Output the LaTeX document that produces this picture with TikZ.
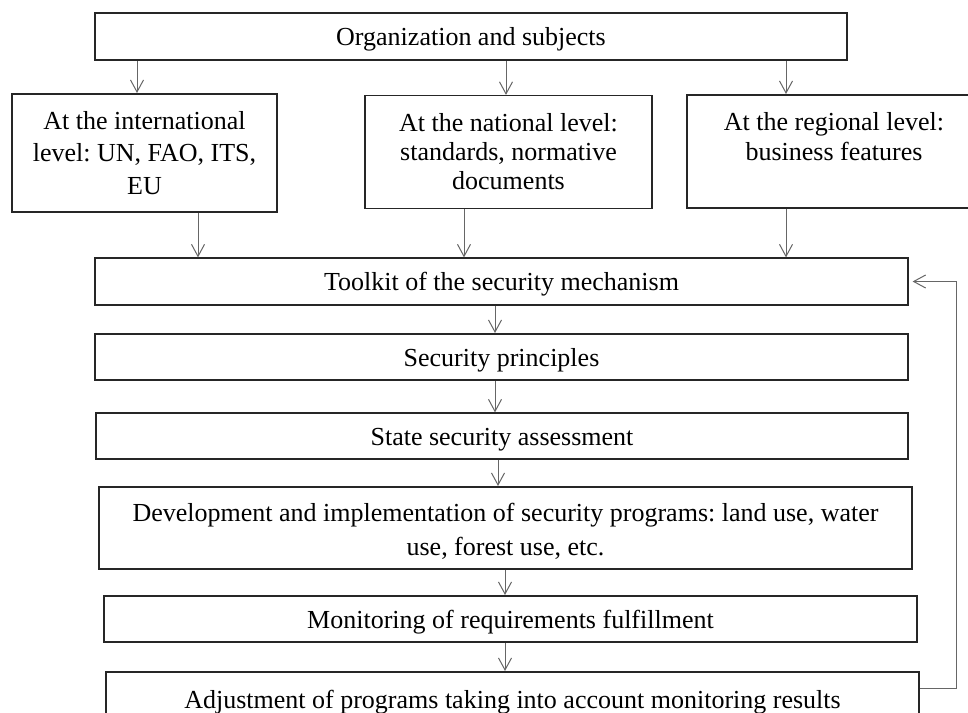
\documentclass[tikz,border=0pt]{standalone}
\usepackage{fontspec}
\setmainfont{Liberation Serif}
\usetikzlibrary{arrows.meta}
\frenchspacing
\begin{document}
\begin{tikzpicture}[x=1pt,y=-1pt,
  boxbase/.style={rectangle,draw=black!85,inner sep=0pt,align=center,
     font=\fontsize{26}{31}\selectfont,text=black},
  thinbox/.style={boxbase,line width=1.2pt},
  thickbox/.style={boxbase,line width=2pt},
  oneline/.style={text height=18pt,text depth=0pt},
  arr/.style={draw=black!60,line width=1pt,-{Straight Barb[length=12pt,width=13pt,line width=1pt]}}
]
\useasboundingbox (0,0) rectangle (968,712);
\clip (0,0) rectangle (968,712);
\fill[white] (0,0) rectangle (968,712);

\node[thickbox,oneline,minimum width=752pt,minimum height=47pt] (top) at (471,36.5) {Organization and subjects};
\node[thickbox,minimum width=265pt,minimum height=118pt,font=\fontsize{26}{32.5}\selectfont] (intl) at (144.5,153) {At the international\\level: UN, FAO, ITS,\\EU};
\node[thinbox,minimum width=287pt,minimum height=113pt,font=\fontsize{26}{29}\selectfont] (nat) at (508.5,152) {At the national level:\\standards, normative\\documents};
\node[thickbox,minimum width=294pt,minimum height=113pt,font=\fontsize{26}{30}\selectfont] (reg) at (834,151.5) {At the regional level:\\business features\\\mbox{}};
\node[thinbox,oneline,minimum width=813pt,minimum height=47pt] (tool) at (501.5,281.5) {Toolkit of the security mechanism};
\node[thickbox,oneline,minimum width=813pt,minimum height=46pt] (prin) at (501.5,357) {Security principles};
\node[thinbox,oneline,minimum width=812pt,minimum height=46pt] (state) at (502,436) {State security assessment};
\node[thickbox,minimum width=813pt,minimum height=82pt,font=\fontsize{26}{34}\selectfont] (dev) at (505.5,528) {\rule{0pt}{24pt}Development and implementation of security programs: land use, water\\use, forest use, etc.};
\node[thickbox,oneline,minimum width=813pt,minimum height=46pt] (mon) at (510.5,619) {Monitoring of requirements fulfillment};
\node[thickbox,oneline,minimum width=813pt,minimum height=54pt] (adj) at (512.5,699) {Adjustment of programs taking into account monitoring results};

\coordinate (xa) at (137,0);
\coordinate (xb) at (506,0);
\coordinate (xc) at (786,0);
\coordinate (xd) at (198,0);
\coordinate (xe) at (464,0);
\coordinate (xf) at (495,0);
\coordinate (xg) at (498,0);
\coordinate (xh) at (505,0);
\coordinate (fb) at (956,688);

\draw[arr] (top.south -| xa) -- (intl.north -| xa);
\draw[arr] (top.south -| xb) -- (nat.north -| xb);
\draw[arr] (top.south -| xc) -- (reg.north -| xc);
\draw[arr] (intl.south -| xd) -- (tool.north -| xd);
\draw[arr] (nat.south -| xe) -- (tool.north -| xe);
\draw[arr] (reg.south -| xc) -- (tool.north -| xc);
\draw[arr] (tool.south -| xf) -- (prin.north -| xf);
\draw[arr] (prin.south -| xf) -- (state.north -| xf);
\draw[arr] (state.south -| xg) -- (dev.north -| xg);
\draw[arr] (dev.south -| xh) -- (mon.north -| xh);
\draw[arr] (mon.south -| xh) -- (adj.north -| xh);
\draw[arr] (adj.east |- fb) -- (fb) -- (fb |- tool.east) -- ([xshift=4pt]tool.east);
\end{tikzpicture}
\end{document}
